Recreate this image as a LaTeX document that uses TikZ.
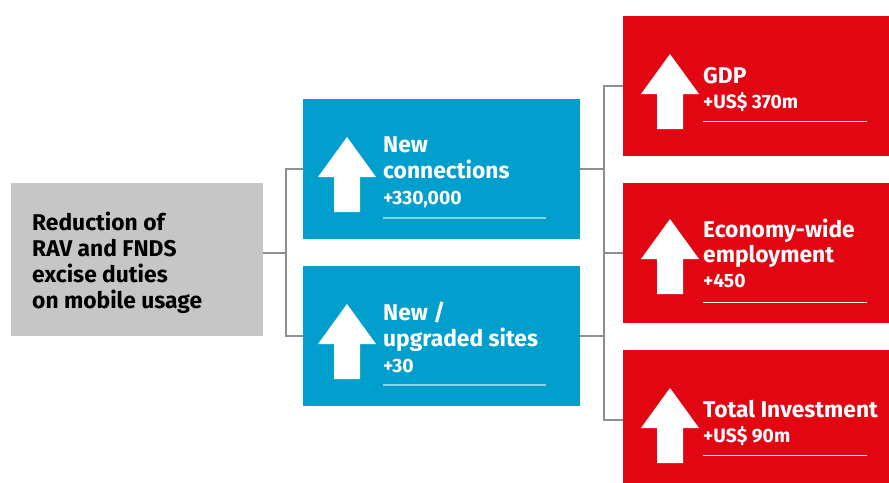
\documentclass[tikz,border=0pt]{standalone}
\usepackage{fontspec}
\setmainfont{Fira Sans}
\usepackage{tikz}

\definecolor{boxgray}{HTML}{C6C6C6}
\definecolor{linkgray}{HTML}{8E8E8E}
\definecolor{tealblue}{HTML}{009FCD}
\definecolor{signalred}{HTML}{E20613}
\definecolor{paleblue}{HTML}{8CD3EA}

\tikzset{
	cutbox/.style={fill=boxgray, minimum width=252, minimum height=153, inner sep=0, anchor=north west},
	effbox/.style={fill=tealblue, minimum width=277, minimum height=140, inner sep=0, anchor=north west},
	gainbox/.style={fill=signalred, minimum width=277, minimum height=140, inner sep=0, anchor=north west},
	link/.style={draw=linkgray, line width=2.2pt},
	headtxt/.style={font=\fontsize{22.8}{26}\selectfont\bfseries, text=white, anchor=base west, inner sep=0},
	valtxt/.style={font=\fontsize{19.3}{22}\selectfont\bfseries, text=white, anchor=base west, inner sep=0},
}

\begin{document}
\begin{tikzpicture}[x=1pt,y=-1pt]
				\useasboundingbox (0,0) rectangle (889,482);
				\clip (0,0) rectangle (889,482);
				
				% boxes
				\node[cutbox] (cut) at (11,183) {};
				\node[effbox] (conn) at (303,99) {};
				\node[effbox] (sites) at (303,266) {};
				\node[gainbox] (gdp) at (623,16) {};
				\node[gainbox] (empl) at (623,183) {};
				\node[gainbox] (inv) at (623,350) {};
				
				% connectors
				\coordinate (j1) at (286,253);
				\draw[link] (j1 -| cut.east) -- (j1);
				\draw[link] (conn.west) -| (j1) |- (sites.west);
				\draw[link] (conn.east) -- ++(24,0);
				\draw[link] (sites.east) -- ++(24,0);
				\draw[link] (gdp.west) -- ++(-19,0) |- (inv.west);
				\draw[link] (empl.west) -- ++(-19,0);
				
				% arrows
				\fill[white] (347,137) -- ++(29,40) -- ++(-16,0) -- ++(0,35) -- ++(-26,0) -- ++(0,-35) -- ++(-16,0) -- cycle;
				\fill[white] (347,304) -- ++(29,40) -- ++(-16,0) -- ++(0,35) -- ++(-26,0) -- ++(0,-35) -- ++(-16,0) -- cycle;
				\fill[white] (670,54) -- ++(29,40) -- ++(-16,0) -- ++(0,35) -- ++(-26,0) -- ++(0,-35) -- ++(-16,0) -- cycle;
				\fill[white] (670,219) -- ++(29,40) -- ++(-16,0) -- ++(0,35) -- ++(-26,0) -- ++(0,-35) -- ++(-16,0) -- cycle;
				\fill[white] (670,388) -- ++(29,40) -- ++(-16,0) -- ++(0,35) -- ++(-26,0) -- ++(0,-35) -- ++(-16,0) -- cycle;
				
				% underlines
				\draw[paleblue, line width=1.2pt] (383,218) -- (546,218);
				\draw[paleblue, line width=1.2pt] (383,385) -- (546,385);
				\draw[white, line width=1pt] (703,121) -- (867,121);
				\draw[white, line width=1pt] (703,302) -- (867,302);
				\draw[white, line width=1pt] (703,455) -- (867,455);
				
				% texts
				\path (32,230) node[headtxt, text=black] (c1) {Reduction of};
				\path (32,256) node[headtxt, text=black] (c2) {RAV and FNDS};
				\path (32,282) node[headtxt, text=black] (c3) {excise duties};
				\path (32,308) node[headtxt, text=black] (c4) {on mobile usage};
				
				\path (383,152) node[headtxt] (n1) {New};
				\path (383,178) node[headtxt] (n2) {connections};
				\path (383,204) node[valtxt] (n3) {+330,000};
				
				\path (383,320) node[headtxt] (s1) {New /};
				\path (383,346) node[headtxt] (s2) {upgraded sites};
				\path (383,372) node[valtxt] (s3) {+30};
				
				\path (703,83) node[headtxt] (g1) {GDP};
				\path (703,108) node[valtxt] (g2) {+US\$ 370m};
				
				\path (703,237) node[headtxt] (e1) {Economy-wide};
				\path (703,262) node[headtxt] (e2) {employment};
				\path (703,287) node[valtxt] (e3) {+450};
				
				\path (703,417) node[headtxt] (i1) {Total Investment};
				\path (703,442) node[valtxt] (i2) {+US\$ 90m};
\end{tikzpicture}
\end{document}
